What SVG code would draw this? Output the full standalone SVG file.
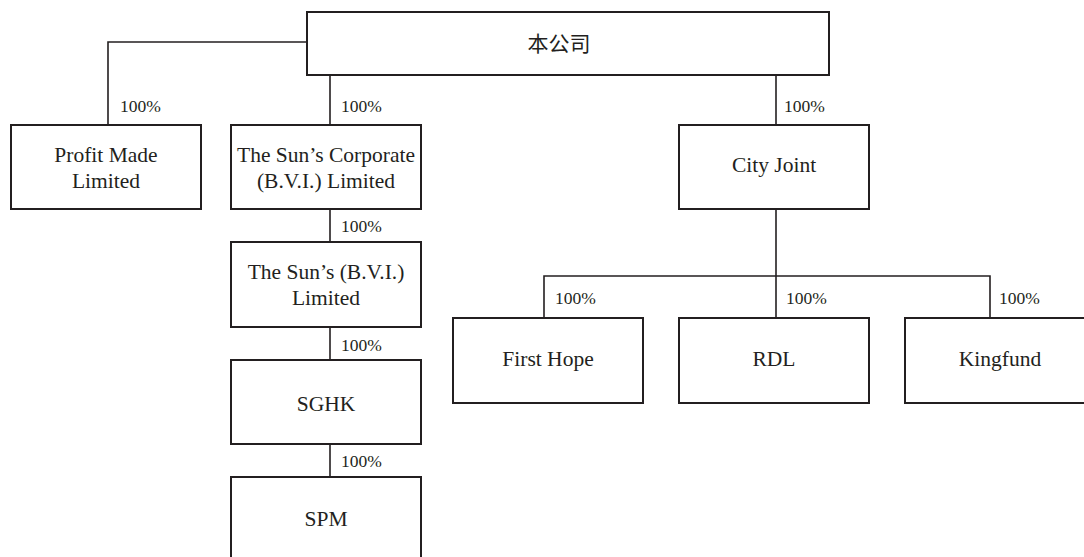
<svg xmlns="http://www.w3.org/2000/svg" width="1084" height="557" viewBox="0 0 1084 557">
<style>
.box{fill:#fff;stroke:#231f20;stroke-width:2}
.ln{fill:none;stroke:#231f20;stroke-width:1.6}
.t{font-family:"Liberation Serif","Times New Roman",serif;font-size:21.5px;fill:#231f20;text-anchor:middle}
.c{font-family:"Liberation Serif","Noto Sans CJK SC",serif;font-size:21px;fill:#231f20;text-anchor:middle}
.p{font-family:"Liberation Serif","Times New Roman",serif;font-size:17.5px;fill:#231f20}
</style>
<rect width="1084" height="557" fill="#fff"/>
<g id="connectors">
<path class="ln" d="M108,125 V42 H307"/>
<path class="ln" d="M330,75 V125"/>
<path class="ln" d="M776,75 V125"/>
<path class="ln" d="M330,209 V242"/>
<path class="ln" d="M330,327 V360"/>
<path class="ln" d="M330,444 V477"/>
<path class="ln" d="M776,209 V318"/>
<path class="ln" d="M544,318 V276 H990 V318"/>
<text class="p" x="120" y="112">100%</text>
<text class="p" x="341" y="112">100%</text>
<text class="p" x="784" y="112">100%</text>
<text class="p" x="341" y="232">100%</text>
<text class="p" x="341" y="351">100%</text>
<text class="p" x="341" y="467">100%</text>
<text class="p" x="555" y="304">100%</text>
<text class="p" x="786" y="304">100%</text>
<text class="p" x="999" y="304">100%</text>
</g>
<g id="parent">
<rect class="box" x="307" y="12" width="522" height="63"/>
<text class="c" x="559" y="51">本公司</text>
</g>
<g id="profit-made">
<rect class="box" x="11" y="125" width="190" height="84"/>
<text class="t" x="106" y="162">Profit Made</text>
<text class="t" x="106" y="188">Limited</text>
</g>
<g id="suns-corporate">
<rect class="box" x="231" y="125" width="190" height="84"/>
<text class="t" x="326" y="162">The Sun’s Corporate</text>
<text class="t" x="326" y="188">(B.V.I.) Limited</text>
</g>
<g id="suns-bvi">
<rect class="box" x="231" y="242" width="190" height="85"/>
<text class="t" x="326" y="279">The Sun’s (B.V.I.)</text>
<text class="t" x="326" y="305">Limited</text>
</g>
<g id="sghk">
<rect class="box" x="231" y="360" width="190" height="84"/>
<text class="t" x="326" y="411">SGHK</text>
</g>
<g id="spm">
<rect class="box" x="231" y="477" width="190" height="85"/>
<text class="t" x="326" y="526">SPM</text>
</g>
<g id="city-joint">
<rect class="box" x="679" y="125" width="190" height="84"/>
<text class="t" x="774" y="172">City Joint</text>
</g>
<g id="first-hope">
<rect class="box" x="453" y="318" width="190" height="85"/>
<text class="t" x="548" y="366">First Hope</text>
</g>
<g id="rdl">
<rect class="box" x="679" y="318" width="190" height="85"/>
<text class="t" x="774" y="366">RDL</text>
</g>
<g id="kingfund">
<rect class="box" x="905" y="318" width="190" height="85"/>
<text class="t" x="1000" y="366">Kingfund</text>
</g>
</svg>
